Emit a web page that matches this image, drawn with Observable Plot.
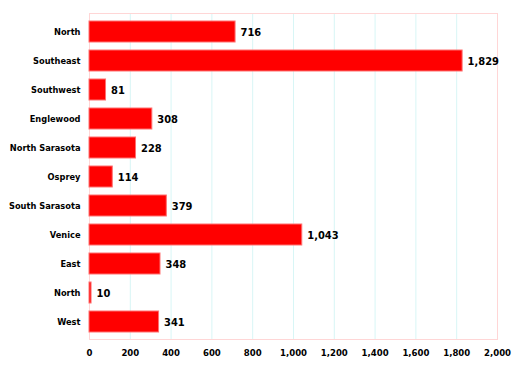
<!DOCTYPE html>
<html>
<head>
<meta charset="utf-8">
<script src="https://cdn.jsdelivr.net/npm/d3@7"></script>
<script src="https://cdn.jsdelivr.net/npm/@observablehq/plot@0.6"></script>
<style>
  html, body { margin: 0; padding: 0; background: #fff; }
  #chart svg { display: block; }
</style>
</head>
<body>
<div id="chart"></div>
<script>
const categories = ["North", "Southeast", "Southwest", "Englewood", "North Sarasota", "Osprey", "South Sarasota", "Venice", "East", "North", "West"];
const values = [716, 1829, 81, 308, 228, 114, 379, 1043, 348, 10, 341];
const xTicks = [0, 200, 400, 600, 800, 1000, 1200, 1400, 1600, 1800, 2000];

const data = categories.map((c, i) => ({ key: String(i), label: c, value: values[i] }));
const fmt = d3.format(",");
const font = "'DejaVu Sans Condensed', 'DejaVu Sans', sans-serif";

const chart = Plot.plot({
  width: 519,
  height: 366,
  marginLeft: 89,
  marginRight: 22,
  marginTop: 13,
  marginBottom: 27,
  style: { fontFamily: font, fontWeight: "bold", color: "#000", background: "#fff", overflow: "visible" },
  x: { domain: [0, 2000], ticks: xTicks, tickFormat: fmt, label: null },
  y: { domain: data.map(d => d.key), paddingInner: 0.28, paddingOuter: 0.14, label: null, tickFormat: k => categories[+k] },
  marks: [
    Plot.gridX(xTicks, { stroke: "#d8f6f6", strokeOpacity: 1 }),
    Plot.frame({ stroke: "#ffd6d6" }),
    Plot.barX(data, { x: "value", y: "key", fill: "#ff0000", stroke: "#ff7070", strokeWidth: 1 }),
    Plot.text(data, { x: "value", y: "key", text: d => fmt(d.value), textAnchor: "start", dx: 5, fontSize: 11, fontWeight: "bold", fill: "#000" }),
    Plot.axisY({ tickSize: 0, tickPadding: 9, fontSize: 9.2, fontWeight: "bold", tickFormat: k => categories[+k] }),
    Plot.axisX({ ticks: xTicks, tickSize: 0, tickPadding: 10, fontSize: 9.5, fontWeight: "bold", tickFormat: fmt })
  ]
});
document.getElementById("chart").appendChild(chart);
</script>
</body>
</html>
